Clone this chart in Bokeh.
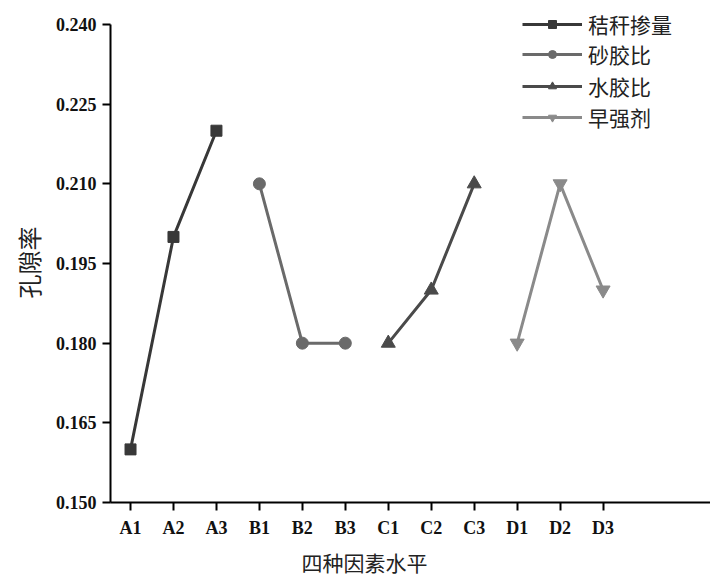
from bokeh.plotting import figure
from bokeh.models import FixedTicker, Legend, LegendItem, Range1d, PrintfTickFormatter, Title
from bokeh.embed import file_html
from bokeh.resources import INLINE

tick_labels = ["A1", "A2", "A3", "B1", "B2", "B3", "C1", "C2", "C3", "D1", "D2", "D3"]
series_names = ["秸秆掺量", "砂胶比", "水胶比", "早强剂"]
a_vals = [0.160, 0.200, 0.220]
b_vals = [0.210, 0.180, 0.180]
c_vals = [0.180, 0.190, 0.210]
d_vals = [0.180, 0.210, 0.190]
y_ticks = [0.150, 0.165, 0.180, 0.195, 0.210, 0.225, 0.240]
x_title = "四种因素水平"
y_title = "孔隙率"

series_vals = [a_vals, b_vals, c_vals, d_vals]
colors = ["#383838", "#6a6a6a", "#4a4a4a", "#8a8a8a"]
markers = ["square", "circle", "triangle", "inverted_triangle"]
msizes = [11, 12, 14, 14]
legend_pos = [(412, 463), (412, 433), (412, 401), (412, 370)]

p = figure(frame_width=600, frame_height=494, output_backend="svg", toolbar_location=None,
           x_range=Range1d(-0.466, 13.5), y_range=Range1d(0.150, 0.24301),
           min_border_left=110, min_border_right=0, min_border_top=8, min_border_bottom=40)
p.outline_line_color = None
p.xgrid.visible = False
p.ygrid.visible = False
p.background_fill_color = "white"

for i, (name, vals) in enumerate(zip(series_names, series_vals)):
    xs = [i * 3 + k for k in range(len(vals))]
    r1 = p.line(xs, vals, line_color=colors[i], line_width=3)
    r2 = p.scatter(xs, vals, marker=markers[i], size=msizes[i], fill_color=colors[i],
                   line_color=colors[i])
    lg = Legend(items=[LegendItem(label=name, renderers=[r1, r2])], location=legend_pos[i],
                border_line_color=None, background_fill_alpha=0, padding=0, margin=0,
                spacing=0, glyph_width=60, glyph_height=20, label_height=20, label_standoff=6,
                label_text_font="Noto Sans CJK SC", label_text_font_size="21px",
                label_text_color="#222222")
    p.add_layout(lg)

for ax in (p.xaxis[0], p.yaxis[0]):
    ax.axis_line_width = 2
    ax.axis_line_color = "black"
    ax.major_tick_line_width = 2
    ax.major_tick_line_color = "black"
    ax.major_tick_out = 8
    ax.major_tick_in = 0
    ax.minor_tick_line_color = None
    ax.major_label_text_font = "Liberation Serif"
    ax.major_label_text_font_style = "bold"
    ax.major_label_text_font_size = "18px"
    ax.major_label_text_color = "#111111"

p.xaxis.ticker = FixedTicker(ticks=list(range(len(tick_labels))))
p.xaxis.major_label_overrides = {i: t for i, t in enumerate(tick_labels)}
p.xaxis.major_label_standoff = 7

p.yaxis.ticker = FixedTicker(ticks=y_ticks)
p.yaxis.formatter = PrintfTickFormatter(format="%.3f")
p.yaxis.major_label_standoff = 6
p.yaxis.bounds = (0.150, 0.240)

xt = Title(text=x_title, align="left", offset=191, standoff=8,
           text_font="Noto Sans CJK SC", text_font_size="21px", text_font_style="normal",
           text_color="#222222")
p.add_layout(xt, "below")
yt = Title(text=y_title, align="left", offset=204, standoff=13,
           text_font="Noto Sans CJK SC", text_font_size="24px", text_font_style="normal",
           text_color="#222222")
p.add_layout(yt, "left")

open("out.html", "w").write(file_html(p, INLINE))
